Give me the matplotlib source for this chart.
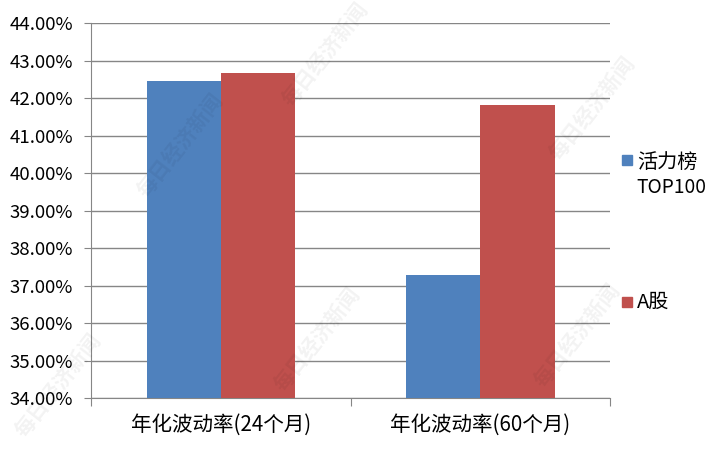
import matplotlib
matplotlib.use("Agg")
import matplotlib.pyplot as plt
from matplotlib.patches import Rectangle
from matplotlib.ticker import FuncFormatter, MultipleLocator

plt.rcParams["font.family"] = ["Noto Sans CJK SC", "DejaVu Sans"]

categories = ["年化波动率(24个月)", "年化波动率(60个月)"]
series_names = ["活力榜", "A股"]
top100 = [42.45, 37.29]
a_share = [42.67, 41.81]
colors = ["#4F81BD", "#C0504D"]

fig = plt.figure(figsize=(7.22, 4.53), dpi=100)
ax = fig.add_axes([0.126, 0.1214, 0.719, 0.8278])

w = 0.286
xs = range(len(categories))
ax.bar([x - w / 2 for x in xs], top100, width=w, color=colors[0], zorder=3)
ax.bar([x + w / 2 for x in xs], a_share, width=w, color=colors[1], zorder=3)

ax.set_ylim(34, 44)
ax.set_xlim(-0.5, 1.5)
ax.yaxis.set_major_locator(MultipleLocator(1))
ax.yaxis.set_major_formatter(FuncFormatter(lambda v, p: f"{v:.2f}%"))
ax.grid(axis="y", color="#868686", linewidth=1.0, zorder=0)

ax.set_xticks([-0.5, 0.5, 1.5])
ax.set_xticklabels([])
ax.set_xticks(list(xs), minor=True)
ax.set_xticklabels(categories, minor=True)
ax.tick_params(axis="x", which="minor", length=0, pad=11, labelsize=14.8, colors="#000000")
ax.tick_params(axis="x", which="major", length=6, color="#868686", direction="out")
ax.tick_params(axis="y", length=5, color="#868686", labelsize=13.4, pad=8)

for s in ["top", "right"]:
    ax.spines[s].set_visible(False)
for s in ["left", "bottom"]:
    ax.spines[s].set_color("#868686")

# legend drawn by hand to keep the wide spacing of the original
for y, c in zip([0.647, 0.333], colors):
    fig.patches.append(Rectangle((0.861, y - 0.011), 0.0139, 0.022,
                                 transform=fig.transFigure, color=c))
fig.text(0.882, 0.642, series_names[0], fontsize=14.5, va="center", ha="left")
fig.text(0.882, 0.585, "TOP100", fontsize=13.8, va="center", ha="left")
fig.text(0.882, 0.333, series_names[1], fontsize=14.5, va="center", ha="left")

# faint watermarks
for wx, wy in [(0.25, 0.68), (0.45, 0.88), (0.82, 0.76), (0.44, 0.25), (0.80, 0.26), (0.08, 0.15)]:
    fig.text(wx, wy, "每日经济新闻", fontsize=15, rotation=52, color="#000000", alpha=0.05,
             ha="center", va="center", fontweight="bold", zorder=10)

fig.savefig("out.png", dpi=100)
